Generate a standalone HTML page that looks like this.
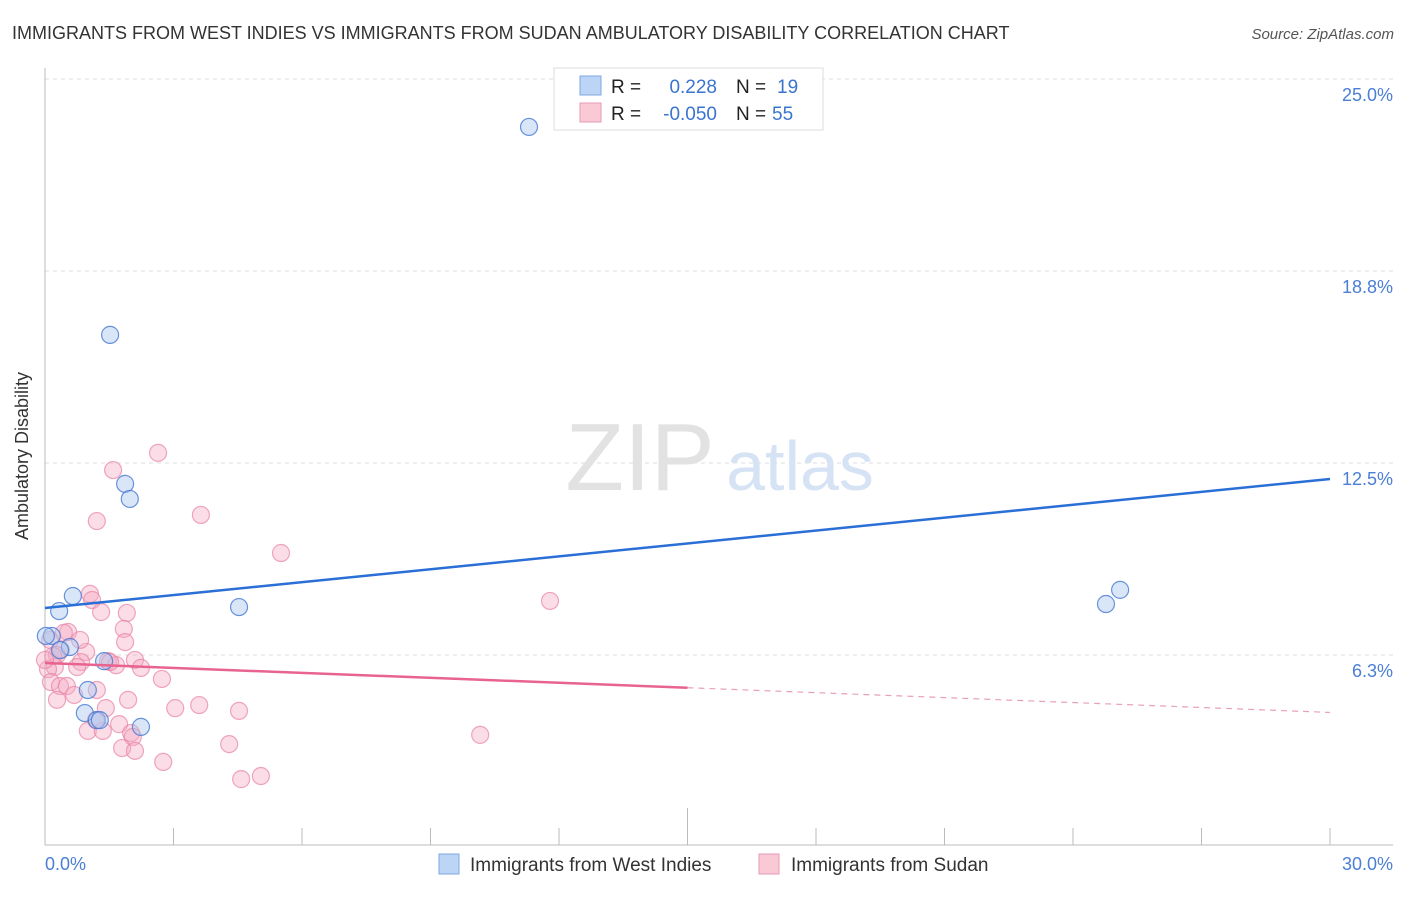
<!DOCTYPE html>
<html><head><meta charset="utf-8"><style>
body{margin:0;background:#fff;font-family:"Liberation Sans",sans-serif;}
svg text{font-family:"Liberation Sans",sans-serif;}
</style></head><body>
<svg width="1406" height="892" viewBox="0 0 1406 892">
<text x="12" y="39" font-size="18" fill="#333">IMMIGRANTS FROM WEST INDIES VS IMMIGRANTS FROM SUDAN AMBULATORY DISABILITY CORRELATION CHART</text>
<text x="1394" y="39" font-size="15" fill="#555" font-style="italic" text-anchor="end">Source: ZipAtlas.com</text>
<text x="28" y="456" font-size="18" fill="#333" text-anchor="middle" transform="rotate(-90 28 456)">Ambulatory Disability</text>
<g id="grid"></g>
<g id="yticks"></g>
<text x="640" y="490" font-size="96" fill="#e2e2e2" font-family="Liberation Serif" text-anchor="middle">ZIP</text>
<text x="800" y="490" font-size="70" fill="#d6e3f5" text-anchor="middle">atlas</text>
<line x1="45" y1="68" x2="45" y2="845" stroke="#bbb"/>
<line x1="45" y1="845" x2="1393" y2="845" stroke="#bbb"/>
<g id="xticks"></g>
<g id="pts"></g>
<g id="trends"></g>
<text x="45" y="870" font-size="18" fill="#4a7fd4">0.0%</text>
<text x="1393" y="870" font-size="18" fill="#4a7fd4" text-anchor="end">30.0%</text>
<g>
<rect x="439" y="854" width="20" height="20" fill="#bcd4f6" stroke="#7fa6e0"/>
<text x="470" y="871" font-size="19" fill="#333">Immigrants from West Indies</text>
<rect x="759" y="854" width="20" height="20" fill="#f9c9d6" stroke="#e79ab2"/>
<text x="791" y="871" font-size="19" fill="#333">Immigrants from Sudan</text>
</g>
<g>
<rect x="554" y="68" width="269" height="62" fill="#fff" stroke="#ddd"/>
<rect x="580" y="76" width="21" height="19" fill="#bcd4f6" stroke="#7fa6e0"/>
<text x="611" y="93" font-size="19" fill="#222">R =</text>
<text x="717" y="93" font-size="19" fill="#3a74cf" text-anchor="end">0.228</text>
<text x="736" y="93" font-size="19" fill="#222">N =</text>
<text x="777" y="93" font-size="19" fill="#3a74cf">19</text>
<rect x="580" y="103" width="21" height="19" fill="#f9c9d6" stroke="#e79ab2"/>
<text x="611" y="120" font-size="19" fill="#222">R =</text>
<text x="717" y="120" font-size="19" fill="#3a74cf" text-anchor="end">-0.050</text>
<text x="736" y="120" font-size="19" fill="#222">N =</text>
<text x="772" y="120" font-size="19" fill="#3a74cf">55</text>
</g>
</svg>
<script>
const yTickVals=[6.25,12.5,18.75,25];
const yTickLabels=["6.3%","12.5%","18.8%","25.0%"];
const blueX=[11.3,1.52,1.87,1.98,4.53,24.77,25.1,0.65,0.33,0.16,0.02,0.58,1.38,1.0,0.93,1.21,1.28,2.24,0.35];
const blueY=[23.44,16.67,11.82,11.33,7.81,7.91,8.37,8.17,7.68,6.87,6.87,6.51,6.05,5.11,4.36,4.13,4.13,3.91,6.41];
const pinkPx=[[158,453],[113,470],[97,521],[201,515],[281,553],[550,601],[90,594],[92,600],[101,612],[127,613],[124,629],[68,632],[64,633],[125,642],[50,640],[61,650],[86,652],[57,655],[81,662],[108,661],[116,665],[135,660],[141,668],[77,667],[55,667],[48,669],[51,682],[60,686],[67,686],[97,690],[74,695],[162,679],[175,708],[199,705],[239,711],[106,708],[119,724],[88,731],[103,731],[131,733],[133,737],[229,744],[122,748],[135,751],[163,762],[241,779],[261,776],[480,735],[53,656],[45,660],[57,700],[110,662],[80,640],[96,720],[128,700]];
const pinkX=pinkPx.map(p=>+((p[0]-45)/42.83).toFixed(2));
const pinkY=pinkPx.map(p=>+((847-p[1])/30.72).toFixed(2));
const blueTrend=[7.78,11.98];
const pinkTrend=[5.99,4.38];
const NS="http://www.w3.org/2000/svg";
const sx=v=>45+v*42.833, sy=v=>847-v*30.72;
function mk(parent,tag,attrs){const e=document.createElementNS(NS,tag);for(const k in attrs)e.setAttribute(k,attrs[k]);document.getElementById(parent).appendChild(e);return e;}
yTickVals.forEach((v,i)=>{
 const l=mk('grid','line',{x1:45,x2:1393,y1:sy(v),y2:sy(v),stroke:'#ddd','stroke-dasharray':'4 4'});
 
 
 const t=mk('yticks','text',{x:1393,y:sy(v)+22,'font-size':18,fill:'#4a7fd4','text-anchor':'end'});
 t.textContent=yTickLabels[i];
 
 
});
for(let i=0;i<=10;i++){
 const x=sx(i*3);
 const l=mk('xticks','line',{x1:x,x2:x,y1:i==5?808:828,y2:845,stroke:'#bbb'});
 
 
}
pinkX.forEach((x,i)=>{
 const c=mk('pts','circle',{cx:sx(x),cy:sy(pinkY[i]),r:8.5,fill:'rgba(246,170,195,0.4)',stroke:'rgba(232,130,165,0.7)','stroke-width':1.2});
 
 
});
blueX.forEach((x,i)=>{
 const c=mk('pts','circle',{cx:sx(x),cy:sy(blueY[i]),r:8.5,fill:'rgba(170,200,240,0.45)',stroke:'rgba(70,120,210,0.8)','stroke-width':1.2});
 
 
});
const bl=mk('trends','line',{x1:sx(0),y1:sy(blueTrend[0]),x2:sx(30),y2:sy(blueTrend[1]),stroke:'#2a6fd6','stroke-width':2.5});


const pm=pinkTrend[0]+(pinkTrend[1]-pinkTrend[0])*0.5;
const pl=mk('trends','line',{x1:sx(0),y1:sy(pinkTrend[0]),x2:sx(15),y2:sy(pm),stroke:'#e8648f','stroke-width':2.5});


const pd=mk('trends','line',{x1:sx(15),y1:sy(pm),x2:sx(30),y2:sy(pinkTrend[1]),stroke:'#e8a0b8','stroke-width':1.2,'stroke-dasharray':'6 5'});


</script>
</body></html>
